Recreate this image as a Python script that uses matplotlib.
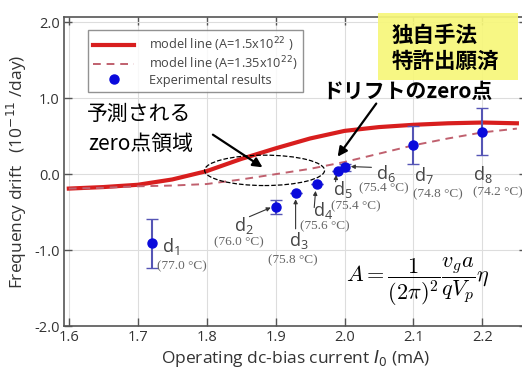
import matplotlib
matplotlib.use("Agg")
import matplotlib.pyplot as plt
from matplotlib.patches import Ellipse, Rectangle

plt.rcParams['font.family'] = ['Open Sans', 'DejaVu Sans']

# model curves
model_x = [1.60, 1.65, 1.70, 1.75, 1.80, 1.85, 1.90, 1.95, 2.00, 2.05, 2.10, 2.15, 2.20, 2.25]
model_15 = [-0.19, -0.17, -0.14, -0.07, 0.04, 0.20, 0.34, 0.47, 0.57, 0.62, 0.65, 0.67, 0.68, 0.67]
model_135 = [-0.19, -0.18, -0.16, -0.15, -0.13, -0.07, 0.00, 0.07, 0.16, 0.27, 0.38, 0.47, 0.55, 0.60]

# experimental results
exp_x = [1.72, 1.90, 1.93, 1.96, 1.99, 2.00, 2.10, 2.20]
exp_y = [-0.91, -0.43, -0.25, -0.13, 0.04, 0.09, 0.39, 0.56]
exp_err = [0.32, 0.09, 0.0, 0.0, 0.0, 0.05, 0.25, 0.31]
exp_names = ['1', '2', '3', '4', '5', '6', '7', '8']
exp_temp = ['77.0', '76.0', '75.8', '75.6', '75.4', '75.4', '74.8', '74.2']

# label placement: (name x, name y, temp x, temp y, arrow from, arrow to)
lab_pos = [
    (1.735, -0.95, 1.764, -1.21, None, None),
    (1.84, -0.67, 1.846, -0.90, (1.862, -0.56), (1.893, -0.44)),
    (1.92, -0.87, 1.925, -1.13, (1.929, -0.72), (1.929, -0.33)),
    (1.954, -0.48, 1.971, -0.69, (1.956, -0.44), (1.958, -0.22)),
    (1.983, -0.20, 2.017, -0.42, (1.987, -0.10), (1.988, -0.01)),
    (2.046, 0.01, 2.057, -0.19, (2.039, 0.09), (2.009, 0.10)),
    (2.101, -0.02, 2.135, -0.27, None, None),
    (2.186, 0.00, 2.222, -0.24, None, None),
]

fig = plt.figure(figsize=(5.22, 3.74), dpi=100)
ax = fig.add_axes([64/522, 1-326/374, 1-64/522+0.01, 309/374])

ax.plot(model_x, model_15, color='#d81e1e', lw=3, label='model line (A=1.5x10$^{22}$ )', zorder=3)
ax.plot(model_x, model_135, color='#c0606e', lw=1.4, ls=(0, (4, 3)), label='model line (A=1.35x10$^{22}$)', zorder=3)
ax.errorbar(exp_x, exp_y, yerr=exp_err, fmt='none', ecolor='#5555b5', elinewidth=1.5, capsize=4, zorder=4)
ax.plot(exp_x, exp_y, 'o', color='#0a0adc', ms=6.5, ls='none', label='Experimental results', zorder=5)

ax.set_xlim(1.593, 2.265)
ax.set_ylim(-2.0, 2.07)
ax.set_xticks([1.6, 1.7, 1.8, 1.9, 2.0, 2.1, 2.2])
ax.set_yticks([-2.0, -1.0, 0.0, 1.0, 2.0])
ax.set_xticklabels(['1.6', '1.7', '1.8', '1.9', '2.0', '2.1', '2.2'])
ax.set_yticklabels(['-2.0', '-1.0', '0.0', '1.0', '2.0'])
ax.tick_params(direction='in', top=True, right=True, length=6, width=1, color='#555555',
               labelsize=10.5, labelcolor='#333333', pad=3)
ax.grid(True, color='#dddddd', lw=0.8)
ax.set_axisbelow(True)
for s in ax.spines.values():
    s.set_color('#555555')
    s.set_linewidth(1.2)

ax.set_xlabel('Operating dc-bias current $I_0$ (mA)', fontsize=12.5, color='#333333', labelpad=2)
ax.set_ylabel('Frequency drift   (10$^{-11}$ /day)', fontsize=12.5, color='#333333', labelpad=4)

leg = ax.legend(loc='upper left', bbox_to_anchor=(0.052, 0.958), fontsize=9.2, frameon=True,
                fancybox=False, edgecolor='#777777', handlelength=3.2, borderpad=0.4,
                labelspacing=0.05, borderaxespad=0, handletextpad=1.2)
for t in leg.get_texts():
    t.set_color('#444444')
leg.get_frame().set_linewidth(1)

# point labels
for i in range(len(exp_x)):
    nx, ny, tx, ty, a0, a1 = lab_pos[i]
    ax.text(nx, ny, r'$\mathregular{d_%s}$' % exp_names[i], fontsize=13, color='#444444',
            ha='left', va='center', zorder=6)
    ax.text(tx, ty, '(%s °C)' % exp_temp[i], fontsize=9.5, color='#666666',
            family='Liberation Serif', ha='center', va='center', zorder=6)
    if a0 is not None:
        ax.annotate('', xy=a1, xytext=a0,
                    arrowprops=dict(arrowstyle='-|>', color='#333333', lw=0.8,
                                    mutation_scale=6, shrinkA=0, shrinkB=0), zorder=6)

# predicted zero region
ax.add_patch(Ellipse((1.884, 0.05), 0.174, 0.40, fill=False, ls='--', lw=0.9,
                     edgecolor='black', zorder=6))
ax.text(1.702, 0.79, '予測される', fontsize=15, family=['Noto Sans CJK JP', 'DejaVu Sans'],
        ha='center', va='center', color='black')
ax.text(1.704, 0.40, 'zero点領域', fontsize=15, family=['Noto Sans CJK JP', 'DejaVu Sans'],
        ha='center', va='center', color='black')
ax.annotate('', xy=(1.881, 0.09), xytext=(1.809, 0.52),
            arrowprops=dict(arrowstyle='-|>', color='black', lw=1.6, mutation_scale=14,
                            shrinkA=0, shrinkB=0), zorder=7)

ax.text(2.091, 1.093, 'ドリフトのzero点', fontsize=15, fontweight='bold',
        family=['Noto Sans CJK JP', 'DejaVu Sans'], ha='center', va='center', color='black')
ax.annotate('', xy=(1.99, 0.23), xytext=(2.046, 0.93),
            arrowprops=dict(arrowstyle='-|>', color='black', lw=1.6, mutation_scale=14,
                            shrinkA=0, shrinkB=0), zorder=7)

# yellow box
fig.patches.append(Rectangle((378/522, 1-80/374), 140/522, 67/374, transform=fig.transFigure,
                             facecolor='#f7f77a', edgecolor='none', alpha=0.92, zorder=5))
fig.text(392/522, 1-35/374, '独自手法', fontsize=15.5, fontweight='bold',
         family='Noto Sans CJK JP', ha='left', va='center', zorder=6)
fig.text(392/522, 1-61/374, '特許出願済', fontsize=15.5, fontweight='bold',
         family='Noto Sans CJK JP', ha='left', va='center', zorder=6)

fig.text(418/522, 1-282/374, r'$A=\dfrac{1}{(2\pi)^2}\dfrac{v_g a}{qV_p}\eta$', fontsize=16,
         math_fontfamily='cm', ha='center', va='center', zorder=6)

fig.savefig('out.png', dpi=100)
